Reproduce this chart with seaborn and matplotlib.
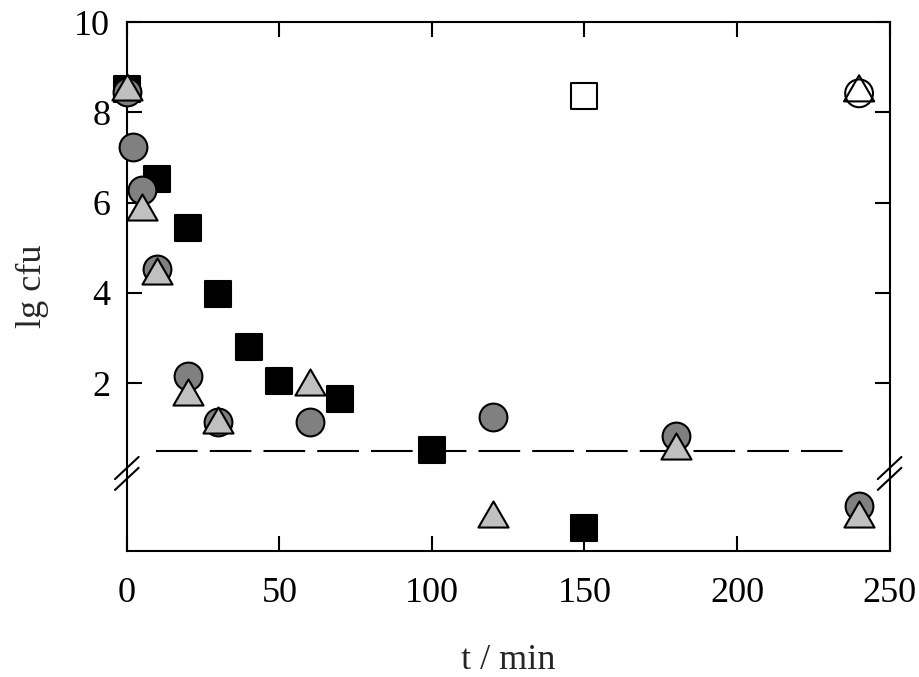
import numpy as np
import pandas as pd
import matplotlib
matplotlib.use("Agg")
import matplotlib.pyplot as plt
from matplotlib.path import Path
import seaborn as sns

# ---- data ----
sq_t = [0, 10, 20, 30, 40, 50, 70, 100, 150]
sq_y = [8.52, 6.53, 5.43, 3.97, 2.80, 2.04, 1.65, 0.51, -1.20]

ci_t = [0, 2, 5, 10, 20, 30, 60, 120, 180, 240]
ci_y = [8.45, 7.24, 6.28, 4.52, 2.15, 1.13, 1.13, 1.25, 0.84, -0.73]

tr_t = [0, 5, 10, 20, 30, 60, 120, 180, 240]
tr_y = [8.55, 5.90, 4.48, 1.81, 1.19, 2.02, -0.90, 0.60, -0.90]

open_sq_t = [150]
open_sq_y = [8.35]
open_ci_t = [240]
open_ci_y = [8.42]
open_tr_t = [240]
open_tr_y = [8.53]

lod_t = [9.5, 236]
lod_y = [0.5, 0.5]

xticks = [0, 50, 100, 150, 200, 250]
yticks = [2, 4, 6, 8, 10]

sns.set_theme(style="ticks")
plt.rcParams['font.family'] = ['Liberation Serif', 'DejaVu Serif']

fig = plt.figure(figsize=(9.19, 6.77), dpi=100)
ax = fig.add_axes([0.138, 0.186, 0.830, 0.7815])

tri = Path([(0, 0.866), (-1, -0.866), (1, -0.866), (0, 0.866)],
           [Path.MOVETO, Path.LINETO, Path.LINETO, Path.CLOSEPOLY])
lw_edge = 1.5

# detection limit dashed line
sns.lineplot(x=lod_t, y=lod_y, ax=ax, color='black', lw=1.5,
             dashes=False, zorder=1)
ax.lines[-1].set_dashes((20, 5.8))

def scat(x, y, marker, s, fc, zorder):
    sns.scatterplot(x=x, y=y, ax=ax, marker=marker, s=s, facecolor=fc,
                    edgecolor='black', linewidth=lw_edge, zorder=zorder,
                    clip_on=False, legend=False)

scat(sq_t, sq_y, 's', 330, 'black', 3)
scat(ci_t, ci_y, 'o', 400, '#808080', 4)
scat(tr_t, tr_y, tri, 470, '#c0c0c0', 5)
scat(open_sq_t, open_sq_y, 's', 330, 'white', 3)
scat(open_ci_t, open_ci_y, 'o', 400, 'none', 4)
scat(open_tr_t, open_tr_y, tri, 470, 'none', 5)

ax.set_xlim(0, 250)
ax.set_ylim(-1.72, 10)
ax.set_xticks(xticks)
ax.set_yticks(yticks)
ax.set_xticklabels([str(v) for v in xticks])
ax.set_yticklabels([str(v) for v in yticks])

for sp in ax.spines.values():
    sp.set_linewidth(1.5)
    sp.set_color('black')
    sp.set_visible(True)

ax.tick_params(direction='in', length=10.5, width=1.5, top=True, right=True,
               labelsize=26, colors='black')
ax.tick_params(axis='x', pad=19)
ax.tick_params(axis='y', pad=12)

ax.set_xlabel('t / min', fontsize=26, labelpad=24)
ax.set_ylabel('lg cfu', fontsize=26, labelpad=18)

# axis break marks
bt = ax.get_yaxis_transform()
dx = 0.0155
dy = 0.245
for xc in (0.0, 1.0):
    for yc in (0.12, -0.12):
        ax.plot([xc - dx, xc + dx], [yc - dy, yc + dy], transform=bt,
                color='black', lw=1.5, clip_on=False, zorder=6)

fig.savefig('out.png', dpi=100, facecolor='white')
